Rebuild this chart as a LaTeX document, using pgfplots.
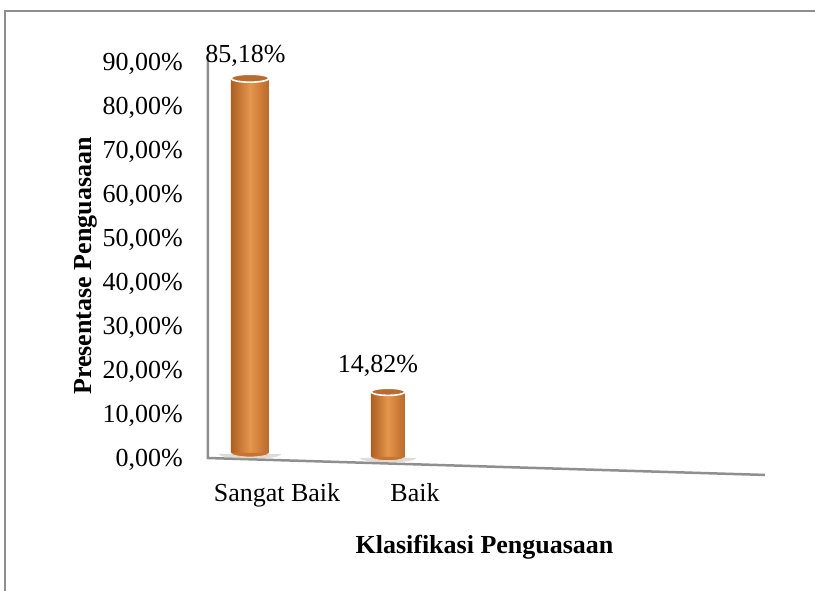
\documentclass[border=0pt]{standalone}
\usepackage{pgfplots}
\pgfplotsset{compat=1.18}
\usepackage{fontspec}
\setmainfont{Liberation Serif}
\definecolor{barL}{HTML}{AE5E22}
\definecolor{barM}{HTML}{E5964C}
\definecolor{barR}{HTML}{B9692A}
\definecolor{barTop}{HTML}{BA6C30}
\definecolor{barBot}{HTML}{C47433}
\definecolor{frameGray}{HTML}{8F8F8F}
\pgfdeclareplotmark{halfell}{%
  \pgfpathmoveto{\pgfqpoint{-\pgfplotmarksize}{0pt}}%
  \pgfpatharc{180}{360}{\pgfplotmarksize and 0.21\pgfplotmarksize}%
  \pgfpathclose
  \pgfusepathqfill
  \pgfpathmoveto{\pgfqpoint{-\pgfplotmarksize}{0pt}}%
  \pgfpatharc{180}{360}{\pgfplotmarksize and 0.21\pgfplotmarksize}%
  \pgfusepathqstroke}
\pgfdeclareplotmark{halfshadow}{%
  \pgfpathmoveto{\pgfqpoint{-\pgfplotmarksize}{0pt}}%
  \pgfpatharc{180}{360}{\pgfplotmarksize and 0.16\pgfplotmarksize}%
  \pgfpathclose
  \pgfusepathqfill}
\begin{document}
\fontsize{26pt}{31pt}\selectfont
\begin{tikzpicture}[x=1pt,y=1pt]
\path[use as bounding box] (0,0) rectangle (815,591);
\draw[frameGray, line width=2pt] (5,-5) -- (5,580) -- (820,580);
\begin{axis}[
  at={(208pt,109pt)}, anchor=south west,
  scale only axis, width=557pt, height=440pt,
  xmin=0.6957, xmax=4.732, ymin=-5, ymax=95,
  axis x line=bottom, axis y line=left,
  axis line style={-, draw=none},
  major tick length=0pt,
  clip=false,
  ytick={0,10,...,90},
  xtick={1,2}, xticklabels={Sangat Baik, Baik},
  /pgf/number format/assume math mode=true,
  yticklabel={\pgfmathprintnumber[fixed,precision=2,fixed zerofill,use comma]{\tick}\%},
  tick label style={font=\fontsize{26pt}{31pt}\selectfont},
  yticklabel style={anchor=east, inner sep=0pt, xshift=-25pt},
  xticklabel style={anchor=base, inner sep=0pt, xshift=27pt, yshift=-20pt},
  xlabel={Klasifikasi Penguasaan},
  ylabel={Presentase Penguasaan},
  every axis x label/.style={at={(axis description cs:0.4964,-0.1614)}, anchor=base, inner sep=0pt, font=\fontsize{26pt}{31pt}\selectfont\bfseries},
  every axis y label/.style={at={(axis description cs:-0.210,0.491)}, anchor=base, rotate=90, inner sep=0pt, font=\fontsize{26pt}{31pt}\selectfont\bfseries},
  cyltop/.style={only marks, mark=*, forget plot,
     nodes near coords={\pgfmathprintnumber[fixed,precision=2,fixed zerofill,use comma]{\pgfplotspointmeta}\%},
     every node near coord/.append style={anchor=base, inner sep=0pt, font=\fontsize{26pt}{31pt}\selectfont}},
  cylbody/.style={ybar, draw=none, left color=barL, right color=barR, middle color=barM, forget plot},
]
% wall and floor
\addplot[frameGray, line width=2.5pt, no marks, forget plot] coordinates {(0.6957,90.9) (0.6957,0.45) (4.732,-3.4)};

% Sangat Baik
\addplot[only marks, mark=halfshadow, forget plot, mark size=31pt, mark options={fill=black!30, draw=none, opacity=0.45}, yshift=6pt] coordinates {(1,0)};
\addplot[only marks, mark=halfell, forget plot, mark size=19pt, mark options={fill=barBot, draw=white!60!barM, line width=0.8pt}, yshift=7pt] coordinates {(1,0)};
\addplot[cylbody, bar width=38pt, yshift=7pt] coordinates {(1,85.18)};
\addplot[cyltop, mark size=19pt, mark options={yscale=0.21, fill=barTop, draw=white, line width=1.6pt}, yshift=7pt,
   every node near coord/.append style={yshift=16pt, xshift=-4.5pt}] coordinates {(1,85.18)};

% Baik
\addplot[only marks, mark=halfshadow, forget plot, mark size=28pt, mark options={fill=black!30, draw=none, opacity=0.45}, yshift=2pt] coordinates {(2,0)};
\addplot[only marks, mark=halfell, forget plot, mark size=17pt, mark options={fill=barBot, draw=white!60!barM, line width=0.8pt}, yshift=3pt] coordinates {(2,0)};
\addplot[cylbody, bar width=34pt, yshift=3pt] coordinates {(2,14.82)};
\addplot[cyltop, mark size=17pt, mark options={yscale=0.21, fill=barTop, draw=white, line width=1.6pt}, yshift=3pt,
   every node near coord/.append style={yshift=19pt, xshift=-10pt}] coordinates {(2,14.82)};
\end{axis}
\end{tikzpicture}
\end{document}
